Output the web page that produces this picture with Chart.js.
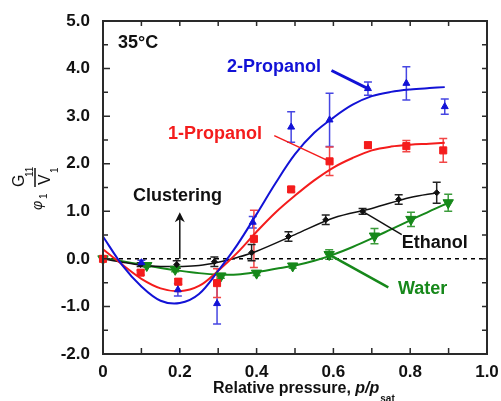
<!DOCTYPE html>
<html>
<head>
<meta charset="utf-8">
<script src="https://cdn.jsdelivr.net/npm/chart.js@4.4.1/dist/chart.umd.min.js"></script>
<style>
  html, body { margin: 0; padding: 0; background: #fff; }
  canvas { display: block; }
</style>
</head>
<body>
<canvas id="kbChart" width="501" height="401"></canvas>
<script>
// measured Kirkwood-Buff values (phi1 * G11 / V1) with error bars
const prop2X   = [0.10, 0.195, 0.297, 0.39, 0.49, 0.59, 0.69, 0.79, 0.89];
const prop2Y   = [-0.08, -0.65, -0.94, 0.77, 2.77, 2.92, 3.58, 3.69, 3.20];
const prop2Err = [0.05, 0.13, 0.43, 0.12, 0.32, 0.56, 0.14, 0.35, 0.16];

const prop1X   = [0, 0.098, 0.196, 0.297, 0.393, 0.49, 0.59, 0.69, 0.79, 0.886];
const prop1Y   = [0, -0.29, -0.48, -0.51, 0.42, 1.46, 2.05, 2.39, 2.37, 2.28];
const prop1Err = [0, 0.05, 0.06, 0.30, 0.60, 0.05, 0.30, 0.06, 0.12, 0.25];

const ethX   = [0, 0.098, 0.192, 0.29, 0.387, 0.483, 0.58, 0.676, 0.77, 0.869];
const ethY   = [0, -0.12, -0.12, -0.06, 0.13, 0.47, 0.82, 1.0, 1.25, 1.39];
const ethErr = [0, 0.04, 0.08, 0.10, 0.17, 0.10, 0.10, 0.06, 0.10, 0.22];

const waterX   = [0, 0.114, 0.188, 0.307, 0.40, 0.494, 0.589, 0.707, 0.802, 0.899];
const waterY   = [0, -0.14, -0.22, -0.36, -0.30, -0.15, 0.09, 0.48, 0.83, 1.18];
const waterErr = [0, 0.03, 0.05, 0.05, 0.05, 0.05, 0.10, 0.16, 0.15, 0.18];

// fitted curves
const fitX      = [0, 0.05, 0.1, 0.15, 0.2, 0.25, 0.3, 0.35, 0.4, 0.45, 0.5, 0.55, 0.6, 0.65, 0.7, 0.75, 0.8, 0.85, 0.89];
const fitProp2  = [0.47, -0.13, -0.58, -0.88, -0.93, -0.74, -0.25, 0.30, 0.94, 1.6, 2.2, 2.65, 2.97, 3.24, 3.42, 3.51, 3.56, 3.59, 3.61];
const fitProp1  = [0.2, -0.12, -0.42, -0.62, -0.68, -0.57, -0.25, 0.13, 0.57, 0.98, 1.33, 1.65, 1.92, 2.12, 2.28, 2.36, 2.40, 2.42, 2.44];
const fitEthX   = [0, 0.05, 0.1, 0.15, 0.2, 0.25, 0.3, 0.35, 0.4, 0.5, 0.6, 0.7, 0.8, 0.87];
const fitEth    = [0, -0.07, -0.13, -0.16, -0.16, -0.14, -0.07, 0.03, 0.16, 0.51, 0.86, 1.06, 1.29, 1.39];
const fitWaterX = [0, 0.05, 0.1, 0.15, 0.2, 0.25, 0.3, 0.35, 0.4, 0.45, 0.5, 0.55, 0.6, 0.65, 0.7, 0.75, 0.8, 0.85, 0.9];
const fitWater  = [0.02, -0.05, -0.12, -0.19, -0.25, -0.30, -0.33, -0.33, -0.28, -0.21, -0.14, -0.04, 0.09, 0.25, 0.43, 0.62, 0.81, 1.0, 1.18];

const xTickLabels = ['0', '0.2', '0.4', '0.6', '0.8', '1.0'];
const yTickLabels = ['-2.0', '-1.0', '0.0', '1.0', '2.0', '3.0', '4.0', '5.0'];

const BLUE = '#1212d6', RED = '#f41c1c', GREEN = '#16881a', BLACK = '#111111';
const FONT = "'Liberation Sans', Arial, sans-serif";

// text labels and leader lines, placed in data units
const notes = [
  { text: '35\u00B0C',   x: 0.039, y: 4.53, color: BLACK },
  { text: '2-Propanol', x: 0.323, y: 4.04, color: BLUE,  from: [0.595, 3.96], to: [0.69, 3.58], width: 3 },
  { text: '1-Propanol', x: 0.169, y: 2.62, color: RED,   from: [0.446, 2.59], to: [0.59, 2.05], width: 1.5 },
  { text: 'Clustering', x: 0.078, y: 1.32, color: BLACK },
  { text: 'Ethanol',    x: 0.778, y: 0.33, color: BLACK, from: [0.778, 0.51], to: [0.676, 1.0], width: 1.5 },
  { text: 'Water',      x: 0.768, y: -0.64, color: GREEN, from: [0.743, -0.60], to: [0.589, 0.09], width: 2.5 }
];
const clusterArrow = { x: 0.2, y0: 0, y1: 0.98 };

function pts(xs, ys) { return xs.map((x, i) => ({ x: x, y: ys[i] })); }

function fitLine(xs, ys, color, w) {
  return { data: pts(xs, ys), showLine: true, pointRadius: 0, borderColor: color,
           borderWidth: w, tension: 0.35, fill: false };
}
function markers(xs, ys, errs, color, barColor, style, r, rot) {
  return { data: pts(xs, ys), errors: errs, barColor: barColor, showLine: false,
           pointStyle: style, pointRadius: r, pointRotation: rot || 0,
           backgroundColor: color, borderColor: color, borderWidth: 1, clip: false };
}

const errorBars = {
  id: 'errorBars',
  beforeDatasetsDraw(chart) {
    const ctx = chart.ctx, ys = chart.scales.y;
    chart.data.datasets.forEach((ds, i) => {
      if (!ds.errors) return;
      const meta = chart.getDatasetMeta(i);
      ctx.save();
      ctx.strokeStyle = ds.barColor;
      ctx.lineWidth = 1.5;
      meta.data.forEach((el, j) => {
        const e = ds.errors[j];
        if (!e) return;
        const t = ys.getPixelForValue(ds.data[j].y + e);
        const b = ys.getPixelForValue(ds.data[j].y - e);
        ctx.beginPath();
        ctx.moveTo(el.x, t); ctx.lineTo(el.x, b);
        ctx.moveTo(el.x - 4, t); ctx.lineTo(el.x + 4, t);
        ctx.moveTo(el.x - 4, b); ctx.lineTo(el.x + 4, b);
        ctx.stroke();
      });
      ctx.restore();
    });
  }
};

const frameAndText = {
  id: 'frameAndText',
  afterDraw(chart) {
    const ctx = chart.ctx, xs = chart.scales.x, ys = chart.scales.y;
    const { left, right, top, bottom } = chart.chartArea;
    ctx.save();
    // frame and inward ticks
    ctx.strokeStyle = '#2a2a2a';
    ctx.lineWidth = 2;
    ctx.strokeRect(left, top, right - left, bottom - top);
    ctx.lineWidth = 1.5;
    ctx.beginPath();
    for (let k = 0; k <= 14; k++) {
      const v = -2 + k * 0.5, py = ys.getPixelForValue(v);
      const len = k % 2 === 0 ? 7 : 5;
      ctx.moveTo(left, py); ctx.lineTo(left + len, py);
      ctx.moveTo(right, py); ctx.lineTo(right - 5, py);
    }
    for (let k = 0; k <= 10; k++) {
      const px = xs.getPixelForValue(k / 10);
      ctx.moveTo(px, top); ctx.lineTo(px, top + 5);
      ctx.moveTo(px, bottom); ctx.lineTo(px, bottom - 6);
    }
    ctx.stroke();

    // leader lines
    notes.forEach(n => {
      if (!n.from) return;
      ctx.strokeStyle = n.color;
      ctx.lineWidth = n.width;
      ctx.beginPath();
      ctx.moveTo(xs.getPixelForValue(n.from[0]), ys.getPixelForValue(n.from[1]));
      ctx.lineTo(xs.getPixelForValue(n.to[0]), ys.getPixelForValue(n.to[1]));
      ctx.stroke();
    });

    // clustering arrow
    const ax = xs.getPixelForValue(clusterArrow.x);
    const a0 = ys.getPixelForValue(clusterArrow.y0), a1 = ys.getPixelForValue(clusterArrow.y1);
    ctx.strokeStyle = BLACK; ctx.fillStyle = BLACK; ctx.lineWidth = 1.5;
    ctx.beginPath(); ctx.moveTo(ax, a0); ctx.lineTo(ax, a1 + 4); ctx.stroke();
    ctx.beginPath();
    ctx.moveTo(ax, a1); ctx.lineTo(ax - 5, a1 + 10); ctx.lineTo(ax, a1 + 7); ctx.lineTo(ax + 5, a1 + 10);
    ctx.closePath(); ctx.fill();

    // annotation texts
    ctx.font = 'bold 18px ' + FONT;
    ctx.textBaseline = 'middle';
    ctx.textAlign = 'left';
    notes.forEach(n => {
      ctx.fillStyle = n.color;
      ctx.fillText(n.text, xs.getPixelForValue(n.x), ys.getPixelForValue(n.y));
    });

    // x axis title
    ctx.fillStyle = '#111';
    ctx.textBaseline = 'alphabetic';
    let x = 213;
    const base = 393;
    const part = (s, f) => { ctx.font = f; ctx.fillText(s, x, base); x += ctx.measureText(s).width; };
    part('Relative pressure, ', 'bold 16px ' + FONT);
    part('p', 'italic bold 16px ' + FONT);
    part('/', 'italic bold 16px ' + FONT);
    part('p', 'italic bold 16px ' + FONT);
    ctx.font = 'bold 10px ' + FONT;
    ctx.fillText('sat', x + 1, base + 9);

    // y axis title: phi1 G11 / V1, rotated
    ctx.translate(35, 180);
    ctx.rotate(-Math.PI / 2);
    ctx.font = '16px ' + FONT;
    ctx.fillText('G', -7, -11);
    ctx.fillText('V', -5, 15);
    ctx.font = '10px ' + FONT;
    ctx.fillText('11', 3, -2);
    ctx.fillText('1', 7, 23);
    ctx.fillText('1', -19, 12);
    ctx.font = 'italic 14px ' + FONT;
    ctx.fillText('\u03C6', -30, 7);
    ctx.strokeStyle = '#111'; ctx.lineWidth = 1.5;
    ctx.beginPath(); ctx.moveTo(-7, 0); ctx.lineTo(12, 0); ctx.stroke();
    ctx.restore();
  }
};

new Chart(document.getElementById('kbChart'), {
  type: 'scatter',
  data: {
    datasets: [
      markers(prop2X, prop2Y, prop2Err, BLUE, '#4646e2', 'triangle', 4),
      markers(prop1X, prop1Y, prop1Err, RED, '#f24646', 'rect', 5),
      markers(ethX, ethY, ethErr, BLACK, '#222', 'rectRot', 3),
      markers(waterX, waterY, waterErr, GREEN, '#3c9c3c', 'triangle', 6, 180),
      fitLine(fitX, fitProp2, BLUE, 2),
      fitLine(fitX, fitProp1, RED, 2),
      fitLine(fitEthX, fitEth, BLACK, 1.5),
      fitLine(fitWaterX, fitWater, GREEN, 2),
      { data: pts([0, 1], [0, 0]), showLine: true, pointRadius: 0, borderColor: '#000',
        borderWidth: 1.5, borderDash: [4, 4] }
    ]
  },
  options: {
    responsive: false,
    animation: false,
    events: [],
    layout: { padding: { top: 21, right: 14, left: 0, bottom: 0 } },
    plugins: { legend: { display: false }, tooltip: { enabled: false } },
    scales: {
      x: {
        type: 'linear', min: 0, max: 1,
        afterFit(s) { s.height = 47; s.paddingLeft = 0; s.paddingRight = 0; },
        ticks: { stepSize: 0.2, autoSkip: false, maxRotation: 0, padding: 8, color: '#111',
                 font: { family: FONT, size: 17, weight: 'bold' },
                 callback: (v, i) => xTickLabels[i] },
        grid: { display: false, drawTicks: false },
        border: { display: false }
      },
      y: {
        type: 'linear', min: -2, max: 5,
        afterFit(s) { s.width = 103; s.paddingTop = 0; s.paddingBottom = 0; },
        ticks: { stepSize: 1, autoSkip: false, padding: 13, color: '#111',
                 font: { family: FONT, size: 17, weight: 'bold' },
                 callback: (v, i) => yTickLabels[i] },
        grid: { display: false, drawTicks: false },
        border: { display: false }
      }
    }
  },
  plugins: [errorBars, frameAndText]
});
</script>
</body>
</html>
